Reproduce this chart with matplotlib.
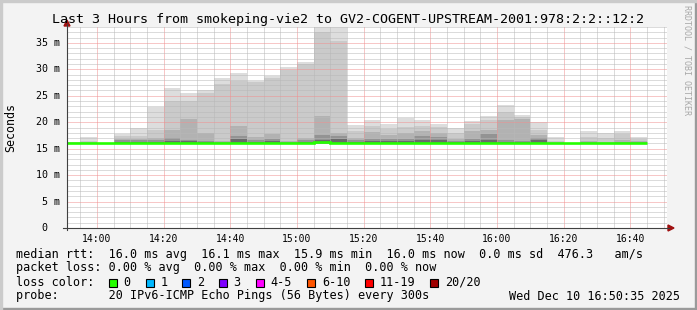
import matplotlib
matplotlib.use("Agg")
import matplotlib.pyplot as plt
import matplotlib.dates as mdates
from matplotlib.patches import Rectangle, Polygon
from matplotlib.lines import Line2D
from datetime import datetime, timedelta

# ---------------- data ----------------
bar_start = ["13:50", "13:55", "14:00", "14:05", "14:10", "14:15", "14:20", "14:25",
             "14:30", "14:35", "14:40", "14:45", "14:50", "14:55", "15:00", "15:05",
             "15:10", "15:15", "15:20", "15:25", "15:30", "15:35", "15:40", "15:45",
             "15:50", "15:55", "16:00", "16:05", "16:10", "16:15", "16:20", "16:25",
             "16:30", "16:35", "16:40"]
ping_min = [15.8, 15.8, 15.8, 15.8, 15.8, 15.8, 15.8, 15.8, 15.8, 15.8, 15.8, 15.8,
            15.8, 15.8, 15.8, 15.8, 15.8, 15.8, 15.8, 15.8, 15.8, 15.8, 15.8, 15.8,
            15.8, 15.8, 15.8, 15.8, 15.8, 15.8, 15.8, 15.8, 15.8, 15.8, 15.8]
smoke_1 = [16.3, 17.2, 16.1, 17.7, 19.0, 22.9, 26.4, 25.5, 26.0, 28.3, 29.3, 27.8,
           28.8, 30.4, 31.3, 38.5, 38.5, 19.5, 20.4, 19.7, 20.8, 20.4, 19.7, 18.9,
           20.3, 21.1, 23.2, 21.3, 20.0, 17.2, 16.1, 18.3, 18.0, 18.3, 17.2]
smoke_2 = [16.2, 16.4, 16.0, 17.3, 17.3, 18.5, 24.0, 24.0, 25.6, 27.2, 27.8, 27.6,
           28.3, 29.8, 31.0, 37.0, 35.3, 18.3, 19.2, 18.8, 19.1, 19.3, 19.1, 18.0,
           19.6, 20.4, 21.9, 20.9, 18.6, 16.4, 16.0, 17.2, 17.0, 17.7, 16.8]
smoke_3 = [16.1, 16.2, 16.0, 16.9, 16.9, 17.0, 18.5, 20.6, 18.0, 16.5, 19.3, 17.2,
           17.7, 16.5, 17.1, 21.2, 18.0, 17.0, 18.2, 17.6, 17.9, 18.4, 17.9, 16.9,
           18.4, 18.6, 20.4, 20.6, 17.6, 16.2, 16.0, 16.4, 16.3, 16.6, 16.4]
smoke_4 = [16.0, 16.1, 16.0, 16.6, 16.7, 16.6, 17.0, 16.6, 16.5, 16.3, 17.4, 16.7,
           16.9, 16.2, 16.6, 17.5, 17.3, 16.6, 16.8, 16.8, 16.8, 17.4, 17.2, 16.5,
           16.8, 17.7, 16.6, 16.4, 17.1, 16.1, 16.0, 16.2, 16.1, 16.3, 16.2]
smoke_5 = [16.0, 16.0, 16.0, 16.3, 16.3, 16.3, 16.5, 16.4, 16.2, 16.1, 16.9, 16.3,
           16.5, 16.1, 16.3, 16.6, 16.8, 16.3, 16.4, 16.4, 16.4, 16.7, 16.7, 16.2,
           16.4, 16.6, 16.3, 16.2, 16.6, 16.0, 16.0, 16.1, 16.0, 16.1, 16.1]
median_rtt = [16.0, 16.0, 16.0, 16.0, 16.0, 16.0, 16.0, 16.0, 16.0, 16.0, 16.0, 16.0,
              16.0, 16.0, 16.0, 16.2, 16.0, 16.0, 16.0, 16.0, 16.0, 16.0, 16.0, 16.0,
              16.0, 16.0, 16.0, 16.0, 16.0, 16.0, 16.0, 16.0, 16.0, 16.0, 16.0]
ytick_vals = [0, 5, 10, 15, 20, 25, 30, 35]
ytick_labels = ["0", "5 m", "10 m", "15 m", "20 m", "25 m", "30 m", "35 m"]
loss_labels = ["0", "1", "2", "3", "4-5", "6-10", "11-19", "20/20"]
loss_colors = ["#26ff00", "#00b8ff", "#0059ff", "#7e00ff", "#ff00ff", "#ff5500",
               "#ff0000", "#a00000"]
title = "Last 3 Hours from smokeping-vie2 to GV2-COGENT-UPSTREAM-2001:978:2:2::12:2"
legend_lines = [
    "median rtt:  16.0 ms avg  16.1 ms max  15.9 ms min  16.0 ms now  0.0 ms sd  476.3   am/s",
    "packet loss: 0.00 % avg  0.00 % max  0.00 % min  0.00 % now",
    "loss color:",
    "probe:       20 IPv6-ICMP Echo Pings (56 Bytes) every 300s",
]
date_stamp = "Wed Dec 10 16:50:35 2025"

# ---------------- figure ----------------
W, H = 697, 310
MONO = "DejaVu Sans Mono"
fig = plt.figure(figsize=(W / 100, H / 100), dpi=100, facecolor="#f3f3f3")


def fx(x):
    return x / W


def fy(y):
    return 1 - y / H


ax = fig.add_axes([fx(67), fy(228), 600 / W, 201 / H])
ax.set_facecolor("white")

day = datetime(2025, 12, 10)
starts = [day + timedelta(hours=int(s[:2]), minutes=int(s[3:])) for s in bar_start]
xs = mdates.date2num(starts)
step = 5 / 1440.0

shade_colors = ["#dddddd", "#cacaca", "#b2b2b2", "#939393", "#6a6a6a"]
for lev, col in zip([smoke_1, smoke_2, smoke_3, smoke_4, smoke_5], shade_colors):
    heights = [t - b for t, b in zip(lev, ping_min)]
    ax.bar(xs, heights, bottom=ping_min, width=step, align="edge", color=col,
           linewidth=0, zorder=1)

edges = list(xs) + [xs[-1] + step]
ax.stairs(median_rtt, edges, color="#26ff00", linewidth=1.9, baseline=None, zorder=4)

ax.set_xlim(mdates.date2num(day + timedelta(hours=13, minutes=51)),
            mdates.date2num(day + timedelta(hours=16, minutes=51)))
ax.set_ylim(0, 38)

ax.xaxis.set_major_locator(mdates.MinuteLocator(byminute=[0, 20, 40]))
ax.xaxis.set_minor_locator(mdates.MinuteLocator(byminute=range(0, 60, 5)))
ax.xaxis.set_major_formatter(mdates.DateFormatter("%H:%M"))
ax.set_yticks(ytick_vals)
ax.set_yticks(range(0, 39), minor=True)
ax.set_yticklabels([])

ax.set_axisbelow(False)
ax.grid(which="minor", color="#b8b8b8", linestyle=(0, (1, 1)), linewidth=0.72)
ax.grid(which="major", color="#f09090", linestyle=(0, (1, 1)), linewidth=0.72)
for axis in (ax.xaxis, ax.yaxis):
    for t in axis.get_major_ticks() + axis.get_minor_ticks():
        t.gridline.set_zorder(3)

ax.tick_params(which="both", length=0)
ax.tick_params(axis="x", pad=4, labelsize=7)
for lab in ax.get_xticklabels():
    lab.set_fontfamily(MONO)
for s in ax.spines.values():
    s.set_visible(False)

for v, lab in zip(ytick_vals, ytick_labels):
    off = -14 if v == 0 else -5
    ax.annotate(lab, xy=(0, v), xycoords=("axes fraction", "data"),
                xytext=(off, 0), textcoords="offset points", ha="right", va="center",
                fontsize=7.2, family=MONO, color="black")

# axes lines with arrows
fig.add_artist(Line2D([fx(67), fx(67)], [fy(230), fy(24)], color="#404040", lw=0.8,
                      transform=fig.transFigure))
fig.add_artist(Line2D([fx(63), fx(669)], [fy(228), fy(228)], color="#404040", lw=0.8,
                      transform=fig.transFigure))
fig.add_artist(Polygon([[fx(67), fy(20)], [fx(64), fy(26)], [fx(70), fy(26)]],
                       closed=True, color="#a01010", transform=fig.transFigure))
fig.add_artist(Polygon([[fx(674), fy(228)], [fx(668), fy(225)], [fx(668), fy(231)]],
                       closed=True, color="#a01010", transform=fig.transFigure))

# texts
fig.text(fx(348), fy(19), title, ha="center", va="center", fontsize=9.6, family=MONO)
fig.text(fx(11), fy(127.5), "Seconds", rotation=90, ha="center", va="center",
         fontsize=8.4, family=MONO)
fig.text(fx(687), fy(60), "RRDTOOL / TOBI OETIKER", rotation=270, ha="center",
         va="center", fontsize=6, family=MONO, color="#a8a8a8")

line_y = [254.7, 268, 282.3, 296]
for txt, y in zip(legend_lines, line_y):
    fig.text(fx(15.6), fy(y), txt, ha="left", va="center", fontsize=8.5, family=MONO)
fig.text(fx(680), fy(296), date_stamp, ha="right", va="center", fontsize=8.5, family=MONO)

box_x = [109, 145.7, 182.3, 219, 255.7, 307.3, 365, 430.3]
for bx, lab, col in zip(box_x, loss_labels, loss_colors):
    fig.add_artist(Rectangle((fx(bx), fy(286.5)), 8 / W, 8 / H, facecolor=col,
                             edgecolor="black", linewidth=0.8, transform=fig.transFigure))
    fig.text(fx(bx + 14.5), fy(282.3), lab, ha="left", va="center", fontsize=8.5,
             family=MONO)

# frame
fig.add_artist(Rectangle((0, 0), 1, 2 / H, color="#9a9a9a", transform=fig.transFigure))
fig.add_artist(Rectangle((1 - 2 / W, 0), 2 / W, 1, color="#9a9a9a", transform=fig.transFigure))
fig.add_artist(Rectangle((0, 1 - 2 / H), 1, 2 / H, color="#cbcbcb", transform=fig.transFigure))
fig.add_artist(Rectangle((0, 0), 2 / W, 1, color="#cbcbcb", transform=fig.transFigure))

fig.savefig("out.png", dpi=100, facecolor=fig.get_facecolor())
